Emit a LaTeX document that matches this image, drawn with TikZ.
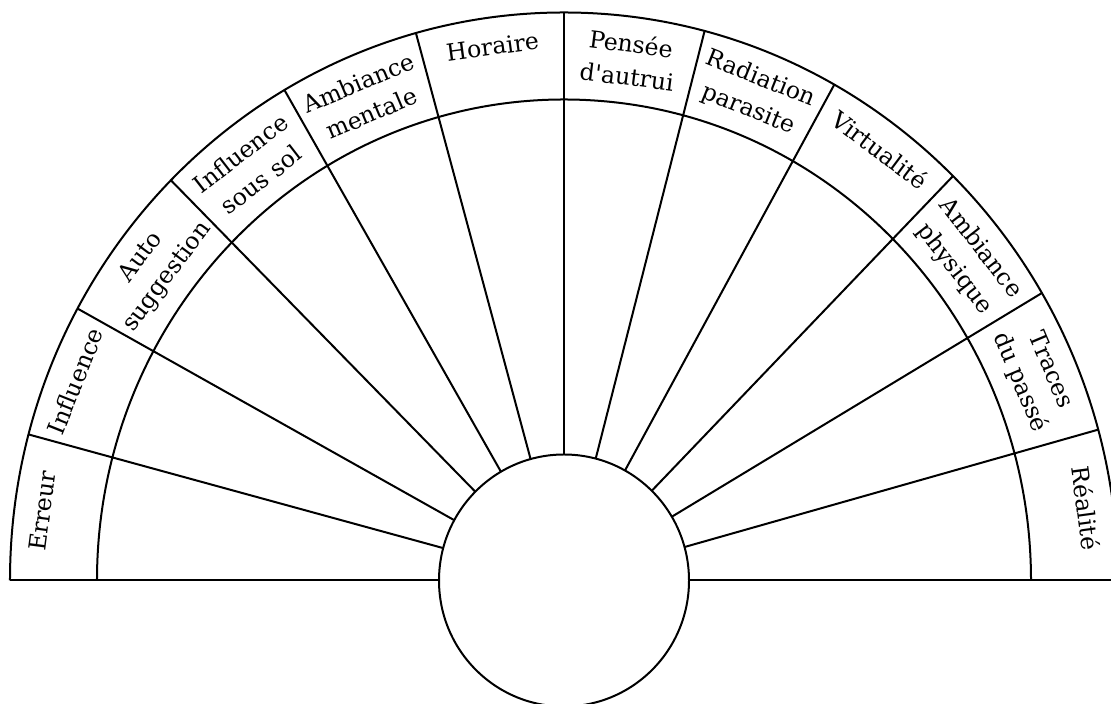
\documentclass[tikz,border=0pt]{standalone}
\usepackage{fontspec}
\setmainfont{DejaVu Serif}

\begin{document}
\begin{tikzpicture}[x=0.5pt, y=0.5pt,
    sector/.style={font=\fontsize{11.8}{16.5}\selectfont, align=center, inner sep=0pt},
    wire/.style={line width=1pt}]
                \useasboundingbox (-564,-123.5) rectangle (547,580.5);
                \clip (-564,-123.5) rectangle (547,580.5);

                % Arcs
                \draw[wire] (0:554 and 568) arc[start angle=0, end angle=180, x radius=554, y radius=568];
                \draw[wire] (0:467 and 481) arc[start angle=0, end angle=180, x radius=467, y radius=481];

                % Hub
                \draw[wire] (0,0) circle[x radius=125, y radius=126];

                % Base line
                \draw[wire] (180:554 and 568) -- (180:125 and 126);
                \draw[wire] (0:125 and 126) -- (0:554 and 568);

                % Spokes
                \draw[wire] (15.4:125 and 126) -- (15.4:554 and 568);
                \draw[wire] (30.4:125 and 126) -- (30.4:554 and 568);
                \draw[wire] (45.4:125 and 126) -- (45.4:554 and 568);
                \draw[wire] (60.8:125 and 126) -- (60.8:554 and 568);
                \draw[wire] (75.3:125 and 126) -- (75.3:554 and 568);
                \draw[wire] (90:125 and 126) -- (90:554 and 568);
                \draw[wire] (105.5:125 and 126) -- (105.5:554 and 568);
                \draw[wire] (120.3:125 and 126) -- (120.3:554 and 568);
                \draw[wire] (135.2:125 and 126) -- (135.2:554 and 568);
                \draw[wire] (151.4:125 and 126) -- (151.4:554 and 568);
                \draw[wire] (165.1:125 and 126) -- (165.1:554 and 568);

                % Labels, left half
                \node[sector, rotate=82.6] (erreur) at (172.6:526 and 539) {Erreur};
                \node[sector, rotate=68.3] (influence) at (158.3:526 and 539) {Influence};
                \node[sector, rotate=53.3] (autosugg) at (143.3:511 and 524) {Auto\\suggestion};
                \node[sector, rotate=37.8] (soussol) at (127.8:511 and 524) {Influence\\sous sol};
                \node[sector, rotate=22.9] (mentale) at (112.9:511 and 524) {Ambiance\\mentale};
                \node[sector, rotate=7.8] (horaire) at (97.8:526 and 539) {Horaire};

                % Labels, right half
                \node[sector, rotate=-7.3] (autrui) at (82.7:512 and 525) {Pensée\\d\textquotesingle autrui};
                \node[sector, rotate=-21.9] (parasite) at (68.1:511 and 524) {Radiation\\parasite};
                \node[sector, rotate=-36.9] (virtualite) at (53.1:526 and 539) {Virtualité};
                \node[sector, rotate=-52.1] (physique) at (37.9:511 and 524) {Ambiance\\physique};
                \node[sector, rotate=-67.1] (passe) at (22.9:511 and 524) {Traces\\du passé};
                \node[sector, rotate=-82.3] (realite) at (7.7:527 and 540) {Réalité};
            \end{tikzpicture}
\end{document}
